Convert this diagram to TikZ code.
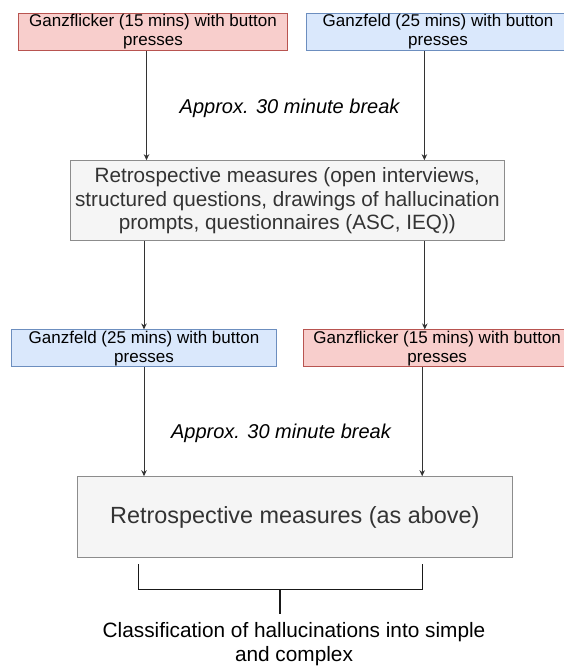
\documentclass[tikz,border=0pt]{standalone}
\usepackage{xcolor}
\usepackage{fontspec}
\setmainfont{Liberation Sans}
\usetikzlibrary{arrows.meta,calc,positioning}

\definecolor{flickfill}{HTML}{F8CECC}
\definecolor{flickdraw}{HTML}{B85450}
\definecolor{feldfill}{HTML}{DAE8FC}
\definecolor{felddraw}{HTML}{6C8EBF}
\definecolor{retrofill}{HTML}{F5F5F5}
\definecolor{retrodraw}{HTML}{8C8C8C}
\definecolor{retrotext}{HTML}{333333}

\begin{document}
\begin{tikzpicture}[x=1pt,y=-1pt,arrow/.style = {line width=0.9pt,draw=black!80,-{Stealth[length=6pt,width=5.5pt]}}]
					\tikzset{task/.style={draw,rectangle,line width=1pt,inner sep=0pt,align=center,font=\fontsize{17}{19}\selectfont}}
					\tikzset{flick/.style={task,fill=flickfill,draw=flickdraw}}
					\tikzset{feld/.style={task,fill=feldfill,draw=felddraw}}
					\tikzset{retro/.style={task,fill=retrofill,draw=retrodraw,text=retrotext}}
					\tikzset{pause/.style={inner sep=0pt,font=\fontsize{20}{24}\selectfont\itshape}}
					\tikzset{bracket/.style={line width=1.3pt,draw=black!90}}

					\useasboundingbox (0,0) rectangle (563,666);

					% First session
					\node[flick, minimum width=268.6pt, minimum height=37.4pt] (flick1) at (153,32) {Ganzflicker (15 mins) with button\\presses};
					\node[feld, minimum width=264pt, minimum height=37.4pt] (feld1) at (438,32) {Ganzfeld (25 mins) with button\\presses};
					\node[pause] (break1) at (289.6,108.3) {Approx. 30 minute break};
					\node[retro, minimum width=434.5pt, minimum height=80pt, font=\fontsize{20.7}{23.5}\selectfont] (retro1) at (287.3,200.7) {Retrospective measures (open interviews,\\structured questions, drawings of hallucination\\prompts, questionnaires (ASC, IEQ))};

					% Second session
					\node[feld, minimum width=265pt, minimum height=36.7pt] (feld2) at (144,348.3) {Ganzfeld (25 mins) with button\\presses};
					\node[flick, minimum width=267.6pt, minimum height=36.7pt] (flick2) at (437.2,348.3) {Ganzflicker (15 mins) with button\\presses};
					\node[pause] (break2) at (281,433) {Approx. 30 minute break};
					\node[retro, minimum width=435pt, minimum height=81pt, font=\fontsize{23.4}{28}\selectfont] (retro2) at (294.8,517.2) {Retrospective measures (as above)};

					% Classification
					\node[align=center, inner xsep=0pt, inner ysep=8.5pt, font=\fontsize{20.8}{24}\selectfont] (classify) at (294,644.5) {Classification of hallucinations into simple\\and complex};

					\draw[arrow] ([xshift=-6.5pt]flick1.south) -- ([xshift=-6.5pt]flick1.south |- retro1.north);
					\draw[arrow] ([xshift=-13.6pt]feld1.south) -- ([xshift=-13.6pt]feld1.south |- retro1.north);
					\draw[arrow] (feld2.north |- retro1.south) -- (feld2.north);
					\draw[arrow] ([xshift=-12.4pt]flick2.north |- retro1.south) -- ([xshift=-12.4pt]flick2.north);
					\draw[arrow] (feld2.south) -- (feld2.south |- retro2.north);
					\draw[arrow] ([xshift=-15pt]flick2.south) -- ([xshift=-15pt]flick2.south |- retro2.north);

					\coordinate (bl) at (138.3,564.3);
					\coordinate (br) at (422.3,564.3);
					\coordinate (bm) at (280,589.3);
					\draw[bracket] (bl) |- (bm) -| (br);
					\draw[bracket] (bm) -- (bm |- classify.north);

				\end{tikzpicture}
\end{document}
